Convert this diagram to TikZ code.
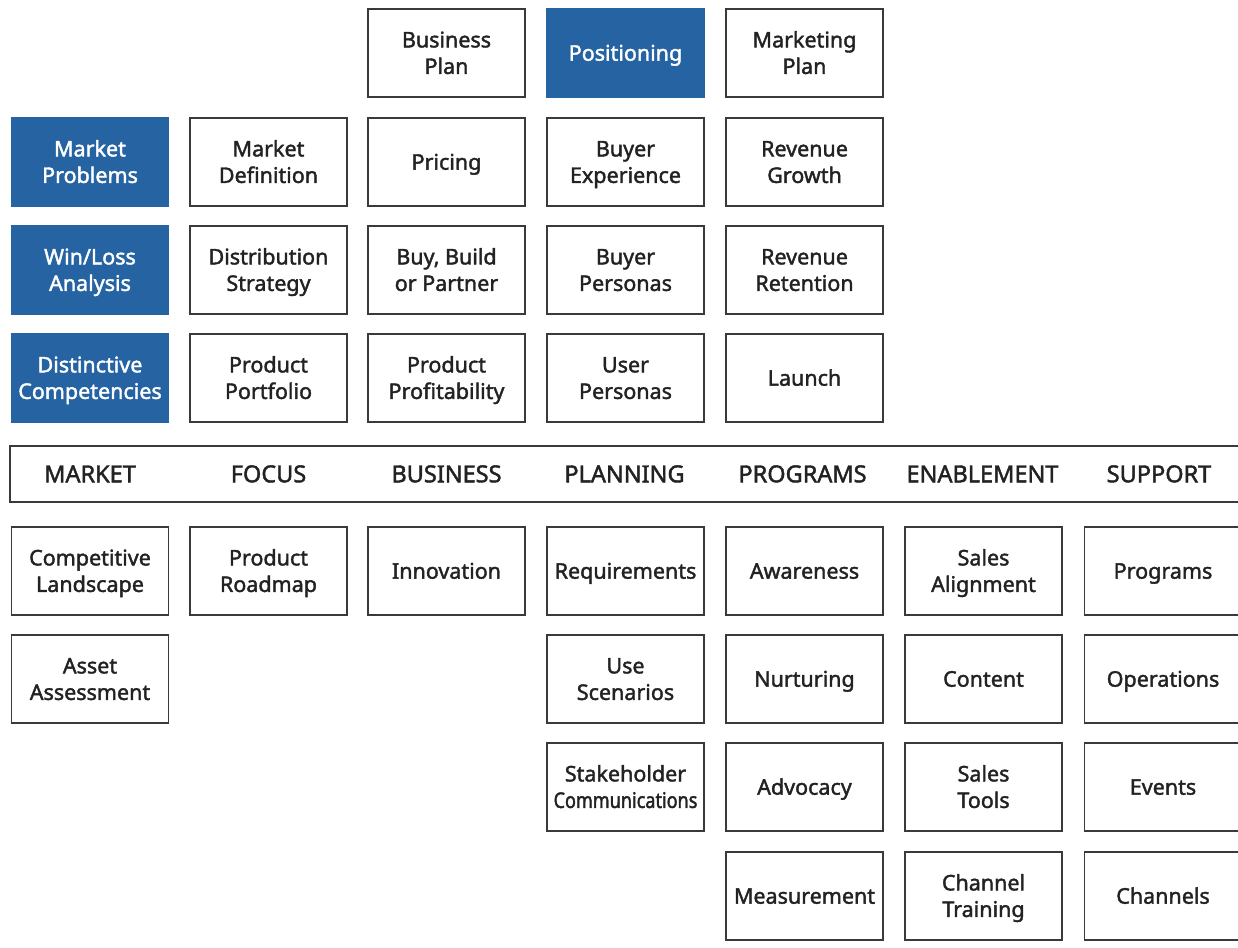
\documentclass[tikz,border=0pt]{standalone}
\usepackage{fontspec}
\setmainfont{Noto Sans}
\newfontfamily\cellfont{Noto Sans}[FakeBold=1.8]
\definecolor{boxblue}{HTML}{2563A3}
\definecolor{ink}{HTML}{222222}
\definecolor{edge}{HTML}{3A3A3A}
% one line of cell text: its height is the cap height, its depth zero,
% so that the caps of every label sit centred in the cell
\newlength\capht
\newcommand\crow[1]{\smash{#1}\rule{0pt}{\capht}}
\begin{document}
\begin{tikzpicture}[x=1pt,y=-1pt,
  cell/.style={draw=edge,line width=1.3pt,minimum width=157pt,minimum height=88pt,
    inner sep=0pt,align=center,text=ink,
    font=\cellfont\bfseries\fontsize{21.5}{26.5}\selectfont\setlength\capht{15.3pt}},
  hl/.style={cell,fill=boxblue,draw=boxblue,text=white},
  head/.style={text=ink,inner sep=0pt,text height=16.6pt,text depth=0pt,
    font=\cellfont\bfseries\fontsize{23.5}{28}\selectfont}]
\useasboundingbox (0,0) rectangle (1238,947);
\clip (0,0) rectangle (1238,947);
% column and row centres
\def\cA{90}\def\cB{268.5}\def\cC{446.5}\def\cD{625.5}\def\cE{804.5}\def\cF{983.5}\def\cG{1163}
\def\rA{53}\def\rB{162}\def\rC{270}\def\rD{378}
\def\rE{571}\def\rF{679}\def\rG{787}\def\rH{896}
% upper block
\node[cell] (bplan) at (\cC,\rA) {\crow{Business}\\\crow{Plan}};
\node[hl]   (posit) at (\cD,\rA) {\crow{Positioning}};
\node[cell] (mplan) at (\cE,\rA) {\crow{Marketing}\\\crow{Plan}};
\node[hl]   (mprob) at (\cA,\rB) {\crow{Market}\\\crow{Problems}};
\node[cell] (mdef)  at (\cB,\rB) {\crow{Market}\\\crow{Definition}};
\node[cell] (price) at (\cC,\rB) {\crow{Pricing}};
\node[cell] (bexp)  at (\cD,\rB) {\crow{Buyer}\\\crow{Experience}};
\node[cell] (rgrow) at (\cE,\rB) {\crow{Revenue}\\\crow{Growth}};
\node[hl]   (winl)  at (\cA,\rC) {\crow{Win/Loss}\\\crow{Analysis}};
\node[cell] (dist)  at (\cB,\rC) {\crow{Distribution}\\\crow{Strategy}};
\node[cell] (bbp)   at (\cC,\rC) {\crow{Buy, Build}\\\crow{or Partner}};
\node[cell] (bpers) at (\cD,\rC) {\crow{Buyer}\\\crow{Personas}};
\node[cell] (rret)  at (\cE,\rC) {\crow{Revenue}\\\crow{Retention}};
\node[hl]   (dcomp) at (\cA,\rD) {\crow{Distinctive}\\\crow{Competencies}};
\node[cell] (pport) at (\cB,\rD) {\crow{Product}\\\crow{Portfolio}};
\node[cell] (pprof) at (\cC,\rD) {\crow{Product}\\\crow{Profitability}};
\node[cell] (upers) at (\cD,\rD) {\crow{User}\\\crow{Personas}};
\node[cell] (launch) at (\cE,\rD) {\crow{Launch}};
% category band
\draw[edge,line width=1.3pt] (1300,446) -- (10,446) -- (10,502) -- (1300,502);
\node[head] (hmarket)  at (\cA,474) {MARKET};
\node[head] (hfocus)   at (\cB,474) {FOCUS};
\node[head] (hbiz)     at (\cC,474) {BUSINESS};
\node[head] (hplan)    at (\cD-1,474) {PLANNING};
\node[head] (hprog)    at (\cE-2,474) {PROGRAMS};
\node[head] (henable)  at (\cF-1,474) {ENABLEMENT};
\node[head] (hsupport) at (\cG-4,474) {SUPPORT};
% lower block
\node[cell] (comp)  at (\cA,\rE) {\crow{Competitive}\\\crow{Landscape}};
\node[cell] (asset) at (\cA,\rF) {\crow{Asset}\\\crow{Assessment}};
\node[cell] (proad) at (\cB,\rE) {\crow{Product}\\\crow{Roadmap}};
\node[cell] (innov) at (\cC,\rE) {\crow{Innovation}};
\node[cell] (req)   at (\cD,\rE) {\crow{Requirements}};
\node[cell] (usesc) at (\cD,\rF) {\crow{Use}\\\crow{Scenarios}};
\node[cell] (stake) at (\cD,\rG)
  {\crow{Stakeholder}\\\crow{\addfontfeature{FakeStretch=0.84}Communications}};
\node[cell] (aware) at (\cE,\rE) {\crow{Awareness}};
\node[cell] (nurt)  at (\cE,\rF) {\crow{Nurturing}};
\node[cell] (advoc) at (\cE,\rG) {\crow{Advocacy}};
\node[cell] (meas)  at (\cE,\rH) {\crow{Measurement}};
\node[cell] (salign) at (\cF,\rE) {\crow{Sales}\\\crow{Alignment}};
\node[cell] (content) at (\cF,\rF) {\crow{Content}};
\node[cell] (stools) at (\cF,\rG) {\crow{Sales}\\\crow{Tools}};
\node[cell] (ctrain) at (\cF,\rH) {\crow{Channel}\\\crow{Training}};
\node[cell] (progs) at (\cG,\rE) {\crow{Programs}};
\node[cell] (ops)   at (\cG,\rF) {\crow{Operations}};
\node[cell] (events) at (\cG,\rG) {\crow{Events}};
\node[cell] (chan)  at (\cG,\rH) {\crow{Channels}};
\end{tikzpicture}
\end{document}
